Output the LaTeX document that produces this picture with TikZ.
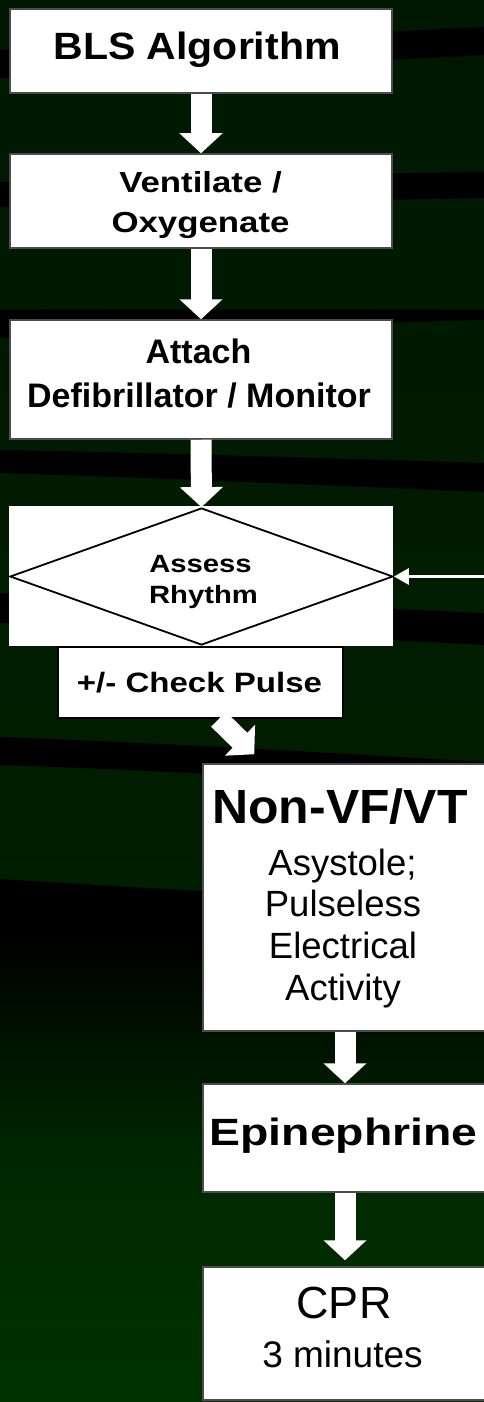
\documentclass[tikz,border=0pt]{standalone}
\usepackage{fontspec}
\setmainfont{Liberation Sans}
\usetikzlibrary{arrows.meta,shapes.geometric}
\definecolor{bgtop}{RGB}{0,24,2}
\definecolor{bgmid}{RGB}{0,30,0}
\definecolor{bgmidb}{RGB}{0,40,0}
\definecolor{bgbot}{RGB}{0,50,0}
\begin{document}
\begin{tikzpicture}[x=1pt,y=-1pt,
  box/.style={draw=black!70, line width=1.5pt, fill=white, inner sep=0pt, rectangle},
  pulsebox/.style={draw=black, line width=2.5pt, fill=white, inner sep=0pt, rectangle},
  lbl/.style={anchor=base, inner sep=0pt, text=black},
  bigarrow/.style={draw=white, line width=21pt, -{Triangle[length=20pt, width=42pt]}},
  thinarrow/.style={draw=white, line width=3pt, -{Triangle[length=15pt, width=16pt]}},
  bandfill/.style={fill=black}
]
\useasboundingbox (0,0) rectangle (484,1402);
% background
\shade[top color=bgtop, bottom color=bgmid] (0,0) rectangle (484,940);
\shade[top color=black, bottom color=bgmidb] (0,938) rectangle (484,1160);
\shade[top color=bgmidb, bottom color=bgbot] (0,1159) rectangle (484,1402);
% dark bands
\fill[bandfill] (0,50) .. controls (160,45) and (320,35) .. (484,27) -- (484,55) .. controls (320,63) and (160,73) .. (0,78) -- cycle;
\fill[bandfill] (0,182) .. controls (160,178) and (320,174) .. (484,172) -- (484,198) .. controls (320,201) and (160,205) .. (0,207) -- cycle;
\fill[bandfill] (0,310) .. controls (160,309) and (320,309) .. (484,310) -- (484,320) .. controls (320,324) and (160,332) .. (0,338) -- cycle;
\fill[bandfill] (0,450) .. controls (160,453) and (320,458) .. (484,463) -- (484,492) .. controls (320,485) and (160,478) .. (0,473) -- cycle;
\fill[bandfill] (0,593) .. controls (160,599) and (320,606) .. (484,613) -- (484,645) .. controls (320,636) and (160,629) .. (0,623) -- cycle;
\fill[bandfill] (0,737) .. controls (160,743) and (320,752) .. (484,762) -- (484,790) .. controls (320,780) and (160,770) .. (0,765) -- cycle;
\fill[bandfill] (0,879) .. controls (160,889) and (320,898) .. (484,905) -- (484,939) -- (0,939) -- cycle;
% boxes
\node[box, minimum width=382pt, minimum height=84pt] (bls) at (201,51) {};
\node[box, minimum width=382pt, minimum height=94pt] (vent) at (201,201) {};
\node[box, minimum width=382pt, minimum height=119pt] (attach) at (201,379.5) {};
\node[fill=white, inner sep=0pt, minimum width=384pt, minimum height=140pt] (assessbg) at (201,576) {};
\node[diamond, draw=black, line width=1.8pt, inner sep=0pt, minimum width=383pt, minimum height=137pt] (assess) at (201.5,576.5) {};
\node[pulsebox, minimum width=285pt, minimum height=71pt] (pulse) at (200.5,682.5) {};
\node[box, minimum width=284pt, minimum height=267pt] (nonvf) at (345,897.5) {};
\node[box, minimum width=284pt, minimum height=108pt] (epi) at (345,1138) {};
\node[box, minimum width=284pt, minimum height=133pt] (cpr) at (345,1333.5) {};
% texts
\node[lbl, font={\bfseries\fontsize{38}{40}\selectfont\addfontfeature{FakeStretch=1.08}}] (tbls) at (197,60) {BLS Algorithm};
\node[lbl, font={\bfseries\fontsize{29}{31}\selectfont\addfontfeature{FakeStretch=1.2}}] (tventa) at (200.5,192) {Ventilate /};
\node[lbl, font={\bfseries\fontsize{29}{31}\selectfont\addfontfeature{FakeStretch=1.2}}] (tventb) at (200.5,232) {Oxygenate};
\node[lbl, font={\bfseries\fontsize{34}{36}\selectfont}] (tatta) at (198.5,363) {Attach};
\node[lbl, font={\bfseries\fontsize{34}{36}\selectfont}] (tattb) at (199,407) {Defibrillator / Monitor};
\node[lbl, font={\bfseries\fontsize{25}{27}\selectfont\addfontfeature{FakeStretch=1.17}}] (tassa) at (200.5,572) {Assess};
\node[lbl, font={\bfseries\fontsize{25}{27}\selectfont\addfontfeature{FakeStretch=1.17}}] (tassb) at (203.5,603) {Rhythm};
\node[lbl, font={\bfseries\fontsize{28}{30}\selectfont\addfontfeature{FakeStretch=1.18}}] (tpulse) at (199.5,692) {+/- Check Pulse};
\node[lbl, font={\bfseries\fontsize{48}{50}\selectfont\addfontfeature{FakeStretch=1.04}}] (tnon) at (340,823) {Non-VF/VT};
\node[lbl, font={\fontsize{36.5}{38}\selectfont}] (tasy) at (342.5,875) {Asystole;};
\node[lbl, font={\fontsize{36.5}{38}\selectfont}] (tpul) at (343,916.5) {Pulseless};
\node[lbl, font={\fontsize{36.5}{38}\selectfont}] (telec) at (343,958) {Electrical};
\node[lbl, font={\fontsize{36.5}{38}\selectfont}] (tact) at (343,1000) {Activity};
\node[lbl, font={\bfseries\fontsize{38}{40}\selectfont\addfontfeature{FakeStretch=1.22}}] (tepi) at (343.5,1145) {Epinephrine};
\node[lbl, font={\fontsize{45}{47}\selectfont}] (tcpr) at (344,1318) {CPR};
\node[lbl, font={\fontsize{37}{39}\selectfont}] (tmin) at (342.5,1367) {3 minutes};
% connectors
\coordinate (loopin) at (490,576.5);
\draw[bigarrow] (bls.south) -- (vent.north);
\draw[bigarrow] (vent.south) -- (attach.north);
\draw[bigarrow] (attach.south) -- (assess.north);
\draw[bigarrow] ([xshift=18pt]pulse.south) -- ([xshift=52pt,yshift=9pt]nonvf.north west);
\draw[bigarrow] (nonvf.south) -- (epi.north);
\draw[bigarrow, shorten >=6pt] (epi.south) -- (cpr.north);
\draw[thinarrow] (loopin) -- (assess.east);
\end{tikzpicture}
\end{document}
